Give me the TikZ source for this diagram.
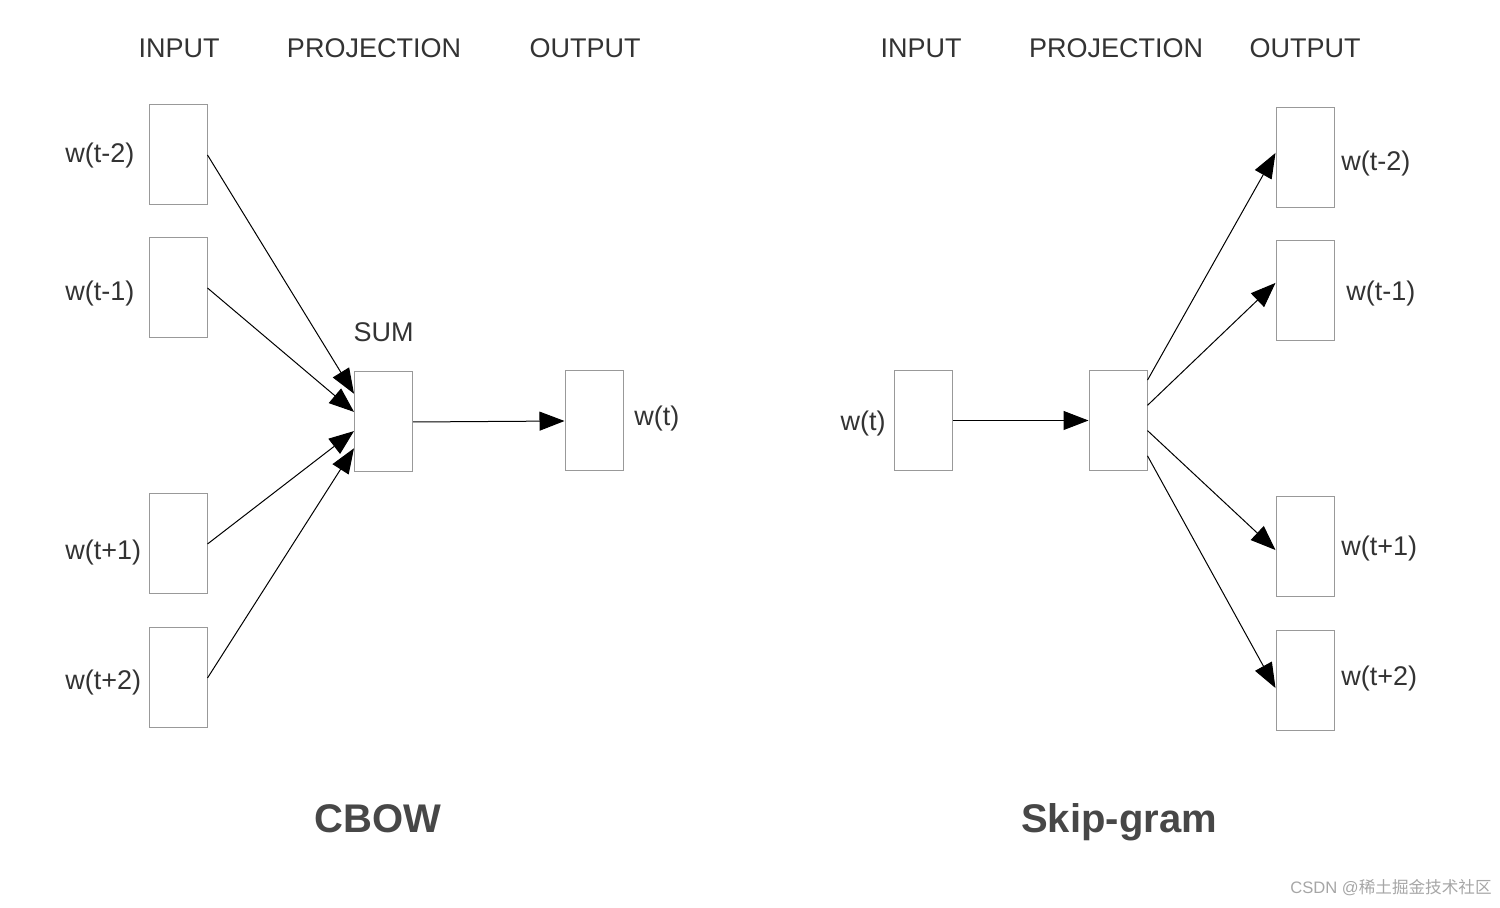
\documentclass[tikz,border=0pt]{standalone}
\usepackage{fontspec}
\setmainfont{Liberation Sans}
\newfontfamily\cjkfont{Noto Sans CJK SC}
\usetikzlibrary{arrows.meta,calc}
\definecolor{txt}{HTML}{333333}
\definecolor{boxc}{HTML}{999999}
\begin{document}
\begin{tikzpicture}[x=0.5pt,y=-0.5pt,
  wbox/.style={draw=boxc,line width=0.5pt,minimum width=29pt,minimum height=50pt,inner sep=0pt,fill=white},
  lbl/.style={font=\fontsize{13.5}{15}\selectfont,text=txt,inner sep=0pt},
  ttl/.style={font=\fontsize{20}{24}\selectfont\bfseries,text=txt!90!white,inner sep=0pt,anchor=base},
  conn/.style={line width=0.5pt,-{Triangle[length=12.5pt,width=9.5pt]}}]
\useasboundingbox (0,0) rectangle (1500,908);
% headers
\node[lbl] (h1) at (179,48) {INPUT};
\node[lbl] (h2) at (374,48) {PROJECTION};
\node[lbl] (h3) at (585,48) {OUTPUT};
\node[lbl] (h4) at (921,48) {INPUT};
\node[lbl] (h5) at (1116,48) {PROJECTION};
\node[lbl] (h6) at (1305,48) {OUTPUT};
% CBOW boxes
\node[wbox] (a1) at (178,155) {};
\node[wbox] (a2) at (178,288) {};
\node[wbox] (a3) at (178,544) {};
\node[wbox] (a4) at (178,678) {};
\node[wbox] (sum) at (383.5,422) {};
\node[wbox] (out) at (594,421) {};
\node[lbl,anchor=west] (la1) at (65,156) {w(t-2)};
\node[lbl,anchor=west] (la2) at (65,294) {w(t-1)};
\node[lbl,anchor=west] (la3) at (65,553) {w(t+1)};
\node[lbl,anchor=west] (la4) at (65,683) {w(t+2)};
\node[lbl] (lsum) at (383.5,332) {SUM};
\node[lbl,anchor=west] (lout) at (634,419) {w(t)};
\draw[conn] (a1.east) -- ($(sum.north west)!0.22!(sum.south west)$);
\draw[conn] (a2.east) -- ($(sum.north west)!0.40!(sum.south west)$);
\draw[conn] (a3.east) -- ($(sum.north west)!0.59!(sum.south west)$);
\draw[conn] (a4.east) -- ($(sum.north west)!0.76!(sum.south west)$);
\draw[conn] (sum.east) -- (out.west);
\node[ttl] (t1) at (378,832) {CBOW};
% Skip-gram
\node[wbox] (inp) at (923.5,420.5) {};
\node[wbox] (proj) at (1118,420.5) {};
\node[wbox] (b1) at (1305,158) {};
\node[wbox] (b2) at (1305,291) {};
\node[wbox] (b3) at (1305,547) {};
\node[wbox] (b4) at (1305,681) {};
\node[lbl,anchor=east] (linp) at (886,424) {w(t)};
\node[lbl,anchor=west] (lb1) at (1341,164) {w(t-2)};
\node[lbl,anchor=west] (lb2) at (1346,294) {w(t-1)};
\node[lbl,anchor=west] (lb3) at (1341,549) {w(t+1)};
\node[lbl,anchor=west] (lb4) at (1341,679) {w(t+2)};
\draw[conn] (inp.east) -- (proj.west);
\draw[conn] ($(proj.north east)!0.10!(proj.south east)$) -- ($(b1.north west)!0.45!(b1.south west)$);
\draw[conn] ($(proj.north east)!0.35!(proj.south east)$) -- ($(b2.north west)!0.42!(b2.south west)$);
\draw[conn] ($(proj.north east)!0.60!(proj.south east)$) -- ($(b3.north west)!0.53!(b3.south west)$);
\draw[conn] ($(proj.north east)!0.85!(proj.south east)$) -- ($(b4.north west)!0.57!(b4.south west)$);
\node[ttl] (t2) at (1119,832) {Skip-gram};
% watermark
\node[anchor=east,inner sep=0pt,text=black!35,font=\fontsize{8.3}{10}\selectfont] (wm) at (1492,888) {CSDN @{\cjkfont 稀土掘金技术社区}};
\end{tikzpicture}
\end{document}
